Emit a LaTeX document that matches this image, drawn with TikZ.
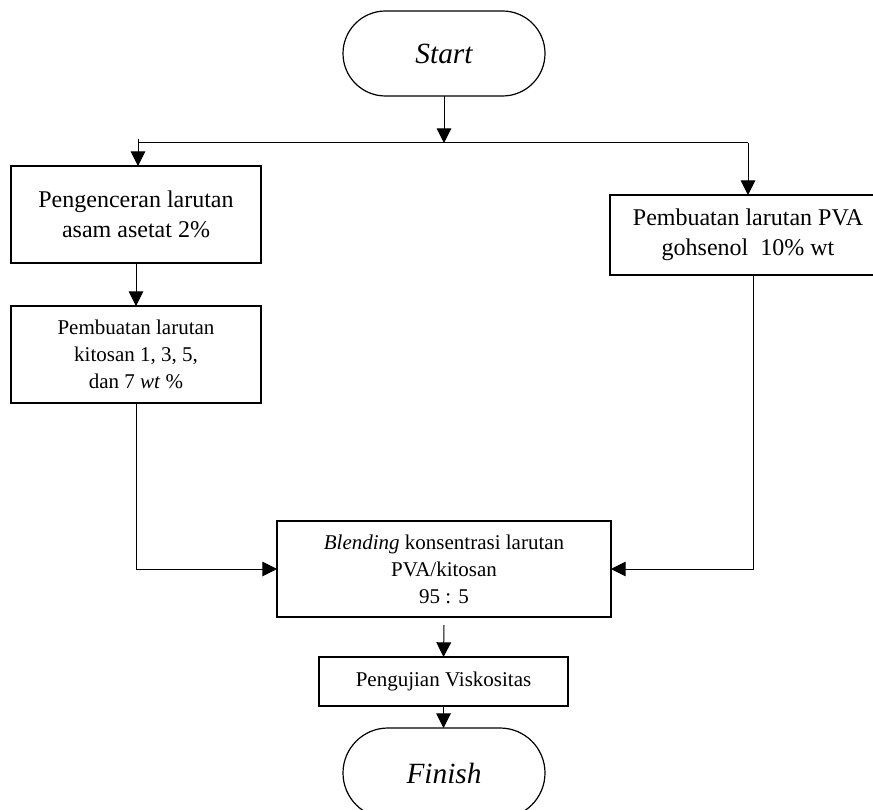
\documentclass[tikz,border=0pt]{standalone}
\usepackage{fontspec}
\setmainfont{Liberation Serif}
\usetikzlibrary{arrows.meta}
\usetikzlibrary{shapes.misc}

\tikzset{
  procbox/.style={draw, line width=1.1pt, inner sep=0pt, outer sep=0pt, align=center, font=\fontsize{18}{22.5}\selectfont},
  smalltext/.style={font=\fontsize{15.75}{20.25}\selectfont},
  termbox/.style={draw, rounded rectangle, line width=0.9pt, minimum width=151.5pt, minimum height=63.75pt, inner sep=0pt, outer sep=0pt, font=\fontsize{22}{26}\selectfont\itshape},
  flow/.style={line width=0.75pt, -{Triangle[length=11pt,width=11pt]}},
  link/.style={line width=0.75pt}
}

\begin{document}
\begin{tikzpicture}[x=0.75pt,y=0.75pt,yscale=-1,xscale=1]
	\useasboundingbox (0,0) rectangle (873,809);

	%Shape: Terminator [id:start]
	\node [termbox] (start) at (444,53.5) {Start};
	%Shape: Rectangle [id:dilute]
	\node [procbox, minimum width=187.5pt, minimum height=72.75pt] (dilute) at (136,214.5) {Pengenceran larutan\\asam asetat 2\%};
	%Shape: Rectangle [id:chitosan]
	\node [procbox, smalltext, minimum width=187.5pt, minimum height=72.75pt] (chitosan) at (136,354.5) {Pembuatan larutan\\kitosan 1, 3, 5,\\dan 7 \textit{wt} \%};
	%Shape: Rectangle [id:pva]
	\node [procbox, minimum width=207pt, minimum height=60pt] (pva) at (748,235) {Pembuatan larutan PVA\\gohsenol~~10\% wt};
	%Shape: Rectangle [id:blend]
	\node [procbox, smalltext, minimum width=250.5pt, minimum height=72pt] (blend) at (444,569) {\textit{Blending} konsentrasi larutan\\PVA/kitosan\\95 : 5};
	%Shape: Rectangle [id:test]
	\node [procbox, smalltext, minimum width=186.75pt, minimum height=36.75pt] (test) at (443.5,681.5) {Pengujian Viskositas};
	%Shape: Terminator [id:finish]
	\node [termbox, minimum height=67.5pt] (finish) at (444,773) {Finish};

	% Free ends
	\coordinate (split) at (444,143);
	\coordinate (tick) at (138,139);
	\coordinate (pvaout) at (753,275);
	\coordinate (blendout) at (444,625);

	%Straight Lines
	\draw [flow] (start.south) -- (split);
	\draw [link] (tick |- split) -- (split -| pva.north);
	\draw [flow] (tick) -- (tick |- dilute.north);
	\draw [flow] (split -| pva.north) -- (pva.north);
	\draw [flow] (dilute.south) -- (chitosan.north);
	\draw [flow] (chitosan.south) |- (blend.west);
	\draw [flow] (pvaout) |- (blend.east);
	\draw [flow] (blendout) -- (test.north);
	\draw [flow] (test.south) -- (test.south |- finish.north);

\end{tikzpicture}
\end{document}
